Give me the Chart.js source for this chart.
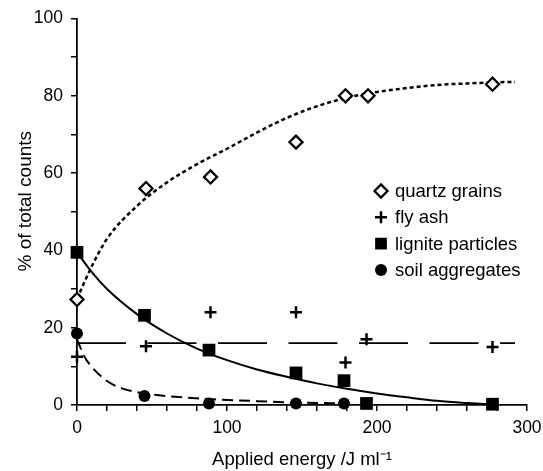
<!DOCTYPE html>
<html>
<head>
<meta charset="utf-8">
<script src="https://cdn.jsdelivr.net/npm/chart.js@4"></script>
<style>
    body { margin: 0; background: #fff; }
    #wrap { width: 543px; height: 471px; }
</style>
</head>
<body>
<div id="wrap"><canvas id="chart" width="543" height="471"></canvas></div>

<script>
    // measured points
    var quartzX = [0, 46, 89, 146, 179, 194, 277];
    var quartzY = [27.3, 56, 59, 68, 80, 80, 83];
    var flyAshX = [0, 46, 89, 146, 179, 193, 277];
    var flyAshY = [12.5, 15.2, 24, 24, 11, 17, 15];
    var ligniteX = [0, 45, 88, 146, 178, 193, 277];
    var ligniteY = [39.5, 23.2, 14.2, 8.3, 6.3, 0.4, 0.2];
    var soilX = [0, 45, 88, 146, 178];
    var soilY = [18.5, 2.3, 0.4, 0.4, 0.4];

    // fitted curves
    var quartzFitX = [0, 10, 20, 40, 60, 80, 100, 120, 140, 160, 180, 200, 220, 240, 260, 280, 292];
    var quartzFitY = [27.5, 36, 43, 51.5, 57.6, 62.3, 66.3, 70.5, 74.3, 77.3, 79.5, 81, 82, 82.8, 83.2, 83.5, 83.6];
    var flyAshFitX = [0, 292];
    var flyAshFitY = [16, 16];
    var ligniteFitX = [0, 10, 20, 40, 60, 80, 100, 120, 140, 160, 180, 200, 220, 240, 260, 277];
    var ligniteFitY = [39.5, 34.3, 30, 23.5, 18.5, 14.6, 11.6, 9.2, 7.3, 5.6, 4.2, 3.0, 2.0, 1.1, 0.5, 0.1];
    var soilFitX = [0, 5, 10, 20, 30, 45, 60, 90, 120, 150, 180];
    var soilFitY = [17, 12.5, 9.8, 6.2, 4.3, 3.0, 2.3, 1.5, 1.0, 0.6, 0.4];

    var legendNames = ["quartz grains", "fly ash", "lignite particles", "soil aggregates"];

    var fontFamily = '"Liberation Sans", Arial, Helvetica, sans-serif';

    function pts(xs, ys) {
        var out = [];
        for (var i = 0; i < xs.length; i++) {
            out.push({x: xs[i], y: ys[i]});
        }
        return out;
    }

    function marks(label, xs, ys, style, radius, bg, bw) {
        return {
            label: label,
            data: pts(xs, ys),
            showLine: false,
            clip: false,
            pointStyle: style,
            pointRadius: radius,
            backgroundColor: bg,
            borderColor: '#000',
            pointBorderWidth: bw,
            borderWidth: bw
        };
    }

    function curve(xs, ys, dash, width) {
        return {
            label: '',
            data: pts(xs, ys),
            showLine: true,
            clip: false,
            pointRadius: 0,
            borderColor: '#000',
            borderWidth: width,
            borderDash: dash,
            cubicInterpolationMode: 'monotone',
            fill: false
        };
    }

    var datasets = [
        marks(legendNames[0], quartzX, quartzY, 'rectRot', 6.5, '#fff', 2.3),
        marks(legendNames[1], flyAshX, flyAshY, 'cross', 6, '#000', 2.5),
        marks(legendNames[2], ligniteX, ligniteY, 'rect', 9, '#000', 0),
        marks(legendNames[3], soilX, soilY, 'circle', 6, '#000', 0),
        curve(quartzFitX, quartzFitY, [4, 3], 2.5),
        curve(flyAshFitX, flyAshFitY, [49, 21.5], 1.8),
        curve(ligniteFitX, ligniteFitY, [], 2),
        curve(soilFitX, soilFitY, [11, 6], 2)
    ];

    var insideLegend = {
        id: 'insideLegend',
        afterDatasetsDraw: function (chart) {
            var ctx = chart.ctx;
            ctx.save();
            ctx.font = '18.5px ' + fontFamily;
            ctx.textBaseline = 'middle';
            for (var i = 0; i < legendNames.length; i++) {
                var ds = chart.data.datasets[i];
                var y = 191 + i * 26.3;
                ctx.fillStyle = ds.backgroundColor;
                ctx.strokeStyle = '#000';
                ctx.lineWidth = ds.borderWidth;
                Chart.helpers.drawPoint(ctx, {
                    pointStyle: ds.pointStyle,
                    radius: ds.pointStyle === 'rect' ? 8.3 : ds.pointRadius,
                    borderWidth: ds.borderWidth,
                    rotation: 0
                }, 381, y);
                ctx.fillStyle = '#000';
                ctx.fillText(ds.label, 395, y + 1);
            }
            ctx.restore();
        }
    };

    var chart = new Chart(document.getElementById('chart'), {
        type: 'scatter',
        data: {datasets: datasets},
        plugins: [insideLegend],
        options: {
            responsive: false,
            animation: false,
            events: [],
            layout: {padding: {top: 17, right: 0, left: 0, bottom: 0}},
            plugins: {legend: {display: false}, tooltip: {enabled: false}},
            scales: {
                x: {
                    type: 'linear',
                    min: 0,
                    max: 300,
                    afterFit: function (scale) {
                        scale.height = 66;
                        scale.paddingRight = 16;
                    },
                    border: {display: true, color: '#000', width: 1.8},
                    grid: {drawOnChartArea: false, drawTicks: true, tickLength: 6, color: '#000', lineWidth: 1.5},
                    ticks: {
                        stepSize: 20,
                        color: '#000',
                        padding: 7,
                        maxRotation: 0,
                        autoSkip: false,
                        font: {family: fontFamily, size: 17.5},
                        callback: function (v) { return v % 100 === 0 ? v : ''; }
                    },
                    title: {
                        display: true,
                        text: 'Applied energy /J ml\u207B\u00B9',
                        color: '#000',
                        font: {family: fontFamily, size: 18.5},
                        padding: {top: 0, bottom: 0}
                    }
                },
                y: {
                    type: 'linear',
                    min: 0,
                    max: 100,
                    afterFit: function (scale) { scale.width = 77; },
                    border: {display: true, color: '#000', width: 1.8},
                    grid: {drawOnChartArea: false, drawTicks: true, tickLength: 6, color: '#000', lineWidth: 1.5},
                    ticks: {
                        stepSize: 10,
                        color: '#000',
                        padding: 8,
                        autoSkip: false,
                        font: {family: fontFamily, size: 17.5},
                        callback: function (v) { return v % 20 === 0 ? v : ''; }
                    },
                    title: {
                        display: true,
                        text: '    % of total counts',
                        color: '#000',
                        font: {family: fontFamily, size: 19},
                        padding: {top: 14, bottom: 0}
                    }
                }
            }
        }
    });
</script>
</body>
</html>
